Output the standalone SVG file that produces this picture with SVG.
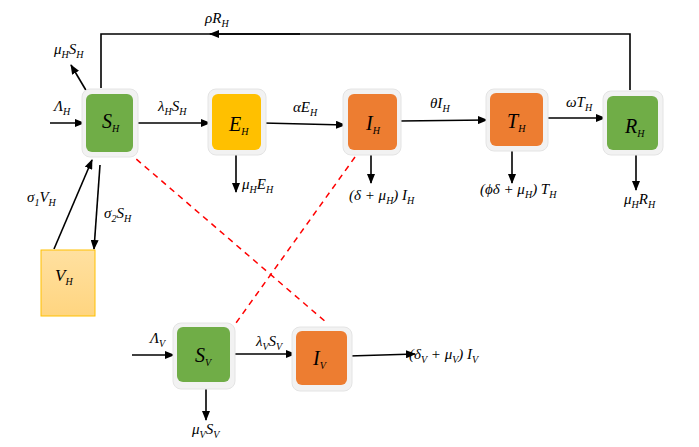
<svg xmlns="http://www.w3.org/2000/svg" width="699" height="447" viewBox="0 0 699 447">
<defs>
<marker id="ah" markerWidth="10" markerHeight="8" refX="9" refY="4" orient="auto" markerUnits="userSpaceOnUse"><path d="M0,0 L10,4 L0,8 z" fill="#000"/></marker>
<linearGradient id="vg" x1="0" y1="0" x2="0" y2="1"><stop offset="0" stop-color="#ffe0a0"/><stop offset="1" stop-color="#ffd580"/></linearGradient>
</defs>
<style>
text{font-family:"Liberation Serif","Times New Roman",serif;font-style:italic;font-size:15px;fill:#000}
.big{font-size:20px}
.s{font-size:10px}
.frame{fill:#f2f2f2;stroke:#e4e4e4;stroke-width:1}
.c{stroke:#000;stroke-width:1.6;fill:none}
.a{stroke:#000;stroke-width:1.6;fill:none;marker-end:url(#ah)}
.d{stroke:#ff0000;stroke-width:1.5;stroke-dasharray:6,5;fill:none}
</style>
<rect width="699" height="447" fill="#fff"/>
<g id="connectors">
<polyline class="c" points="630,90 630,34 101,34 101,88"/>
<line class="a" x1="300" y1="34" x2="210" y2="34"/>
<line class="a" x1="87" y1="92" x2="71" y2="65"/>
<line class="a" x1="50" y1="123" x2="84" y2="123"/>
<line class="a" x1="136" y1="123" x2="210" y2="123"/>
<line class="a" x1="263" y1="123" x2="345" y2="125"/>
<line class="a" x1="400" y1="121" x2="487" y2="120"/>
<line class="a" x1="539" y1="118" x2="605" y2="118"/>
<line class="a" x1="54" y1="249" x2="92" y2="160"/>
<line class="a" x1="100" y1="165" x2="94" y2="249"/>
<line class="a" x1="236" y1="153" x2="236" y2="192"/>
<line class="a" x1="371" y1="153" x2="371" y2="183"/>
<line class="a" x1="512" y1="148" x2="512" y2="183"/>
<line class="a" x1="636" y1="153" x2="636" y2="190"/>
<line class="a" x1="132" y1="355" x2="174" y2="355"/>
<line class="a" x1="235" y1="354" x2="295" y2="354"/>
<line class="a" x1="349" y1="356" x2="415" y2="354"/>
<line class="a" x1="206" y1="389" x2="206" y2="420"/>
<line class="d" x1="128" y1="152" x2="327" y2="323"/>
<line class="d" x1="355" y1="157" x2="231" y2="330"/>
</g>
<g id="SH"><rect class="frame" x="82" y="89" width="56" height="68" rx="8"/><rect x="86" y="94" width="47" height="58" rx="6" fill="#70ad47"/><text x="102" y="128" class="big">S<tspan class="s" dy="4">H</tspan></text></g>
<g id="EH"><rect class="frame" x="208" y="89" width="58" height="66" rx="8"/><rect x="212" y="94" width="49" height="56" rx="6" fill="#ffc000"/><text x="229" y="131" class="big">E<tspan class="s" dy="4">H</tspan></text></g>
<g id="IH"><rect class="frame" x="343" y="89" width="58" height="66" rx="8"/><rect x="348" y="94" width="49" height="56" rx="6" fill="#ed7d31"/><text x="366" y="130" class="big">I<tspan class="s" dy="4">H</tspan></text></g>
<g id="TH"><rect class="frame" x="486" y="89" width="62" height="62" rx="8"/><rect x="490" y="93" width="53" height="53" rx="6" fill="#ed7d31"/><text x="507" y="128" class="big">T<tspan class="s" dy="4">H</tspan></text></g>
<g id="RH"><rect class="frame" x="603" y="91" width="60" height="64" rx="8"/><rect x="607" y="96" width="51" height="54" rx="6" fill="#70ad47"/><text x="625" y="133" class="big">R<tspan class="s" dy="4">H</tspan></text></g>
<g id="VH"><rect x="41" y="250" width="54" height="66" fill="url(#vg)" stroke="#ffc000" stroke-width="1"/><text x="55" y="281" class="big" style="font-size:17px">V<tspan class="s" dy="4">H</tspan></text></g>
<g id="SV"><rect class="frame" x="173" y="323" width="62" height="66" rx="8"/><rect x="177" y="327" width="53" height="55" rx="6" fill="#70ad47"/><text x="195" y="362" class="big">S<tspan class="s" dy="4">V</tspan></text></g>
<g id="IV"><rect class="frame" x="292" y="327" width="60" height="64" rx="8"/><rect x="296" y="331" width="51" height="54" rx="6" fill="#ed7d31"/><text x="313" y="365" class="big">I<tspan class="s" dy="4">V</tspan></text></g>
<g id="labels">
<text x="205" y="23">ρR<tspan class="s" dy="4">H</tspan></text>
<text x="54" y="54">μ<tspan class="s" dy="4">H</tspan><tspan dy="-4">S</tspan><tspan class="s" dy="4">H</tspan></text>
<text x="54" y="111">Λ<tspan class="s" dy="4">H</tspan></text>
<text x="158" y="111">λ<tspan class="s" dy="4">H</tspan><tspan dy="-4">S</tspan><tspan class="s" dy="4">H</tspan></text>
<text x="293" y="112">αE<tspan class="s" dy="4">H</tspan></text>
<text x="430" y="108">θI<tspan class="s" dy="4">H</tspan></text>
<text x="566" y="107">ωT<tspan class="s" dy="4">H</tspan></text>
<text x="27" y="202">σ<tspan class="s" dy="4">1</tspan><tspan dy="-4">V</tspan><tspan class="s" dy="4">H</tspan></text>
<text x="104" y="218">σ<tspan class="s" dy="4">2</tspan><tspan dy="-4">S</tspan><tspan class="s" dy="4">H</tspan></text>
<text x="242" y="189">μ<tspan class="s" dy="4">H</tspan><tspan dy="-4">E</tspan><tspan class="s" dy="4">H</tspan></text>
<text x="349" y="200">(δ + μ<tspan class="s" dy="4">H</tspan><tspan dy="-4">) I</tspan><tspan class="s" dy="4">H</tspan></text>
<text x="480" y="194">(ϕδ + μ<tspan class="s" dy="4">H</tspan><tspan dy="-4">) T</tspan><tspan class="s" dy="4">H</tspan></text>
<text x="624" y="204">μ<tspan class="s" dy="4">H</tspan><tspan dy="-4">R</tspan><tspan class="s" dy="4">H</tspan></text>
<text x="150" y="343">Λ<tspan class="s" dy="4">V</tspan></text>
<text x="256" y="346">λ<tspan class="s" dy="4">V</tspan><tspan dy="-4">S</tspan><tspan class="s" dy="4">V</tspan></text>
<text x="409" y="359">(δ<tspan class="s" dy="4">V</tspan><tspan dy="-4"> + μ</tspan><tspan class="s" dy="4">V</tspan><tspan dy="-4">) I</tspan><tspan class="s" dy="4">V</tspan></text>
<text x="192" y="434">μ<tspan class="s" dy="4">V</tspan><tspan dy="-4">S</tspan><tspan class="s" dy="4">V</tspan></text>
</g>
</svg>
